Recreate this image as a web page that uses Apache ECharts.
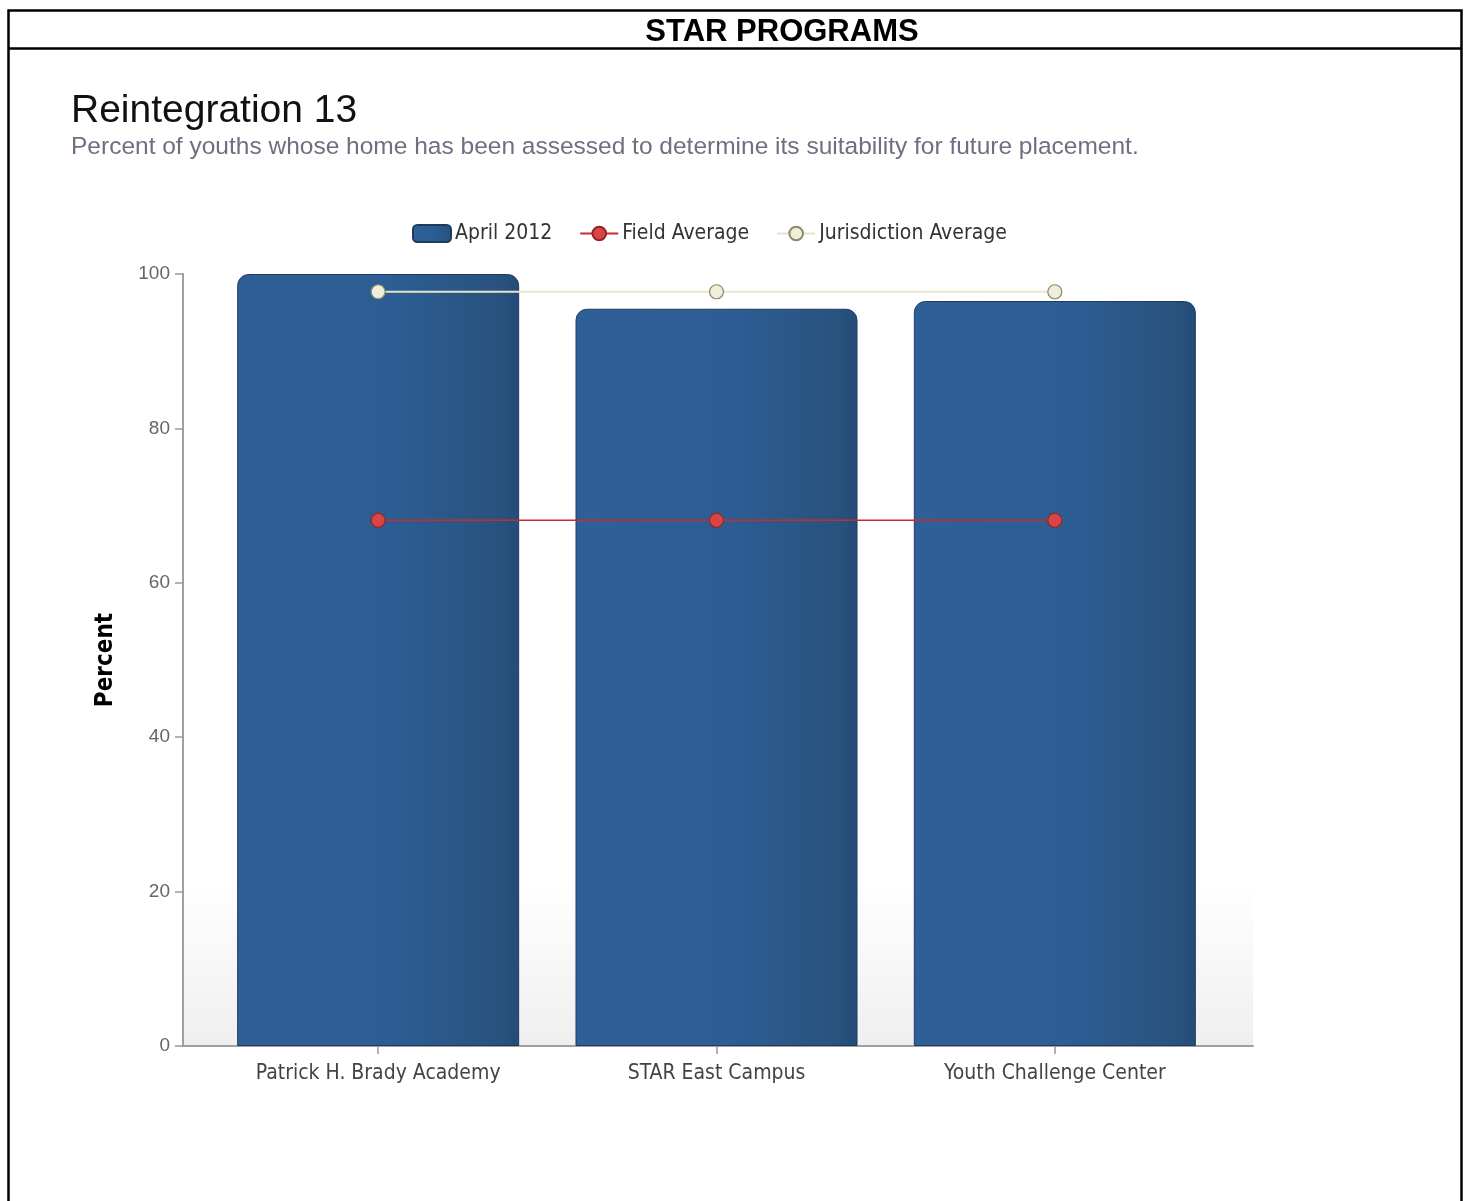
<!DOCTYPE html>
<html>
<head>
<meta charset="utf-8">
<script src="https://cdn.jsdelivr.net/npm/echarts@6/dist/echarts.min.js"></script>
<style>
html,body{margin:0;padding:0;background:#fff;}
#chart{width:1465px;height:1201px;}
</style>
</head>
<body>
<div id="chart"></div>
<script>
const categories = ['Patrick H. Brady Academy', 'STAR East Campus', 'Youth Challenge Center'];
const april2012 = [100, 95.5, 96.5];
const fieldAverage = [68.1, 68.1, 68.1];
const jurisdictionAverage = [97.7, 97.7, 97.7];
const yMin = 0, yMax = 100, yInterval = 20;

const chart = echarts.init(document.getElementById('chart'), null, {renderer: 'canvas'});
const labelFont = '"DejaVu Sans Condensed", "DejaVu Sans", sans-serif';

const option = {
  backgroundColor: '#fff',
  animation: false,
  title: [{
    text: 'Reintegration 13',
    subtext: 'Percent of youths whose home has been assessed to determine its suitability for future placement.',
    left: 71, top: 91, itemGap: 3,
    padding: 0,
    textStyle: {fontFamily: '"Liberation Sans", Arial, sans-serif', fontSize: 39, fontWeight: 'normal', color: '#111', lineHeight: 40},
    subtextStyle: {fontFamily: '"Liberation Sans", Arial, sans-serif', fontSize: 24.5, color: '#6f6f82', lineHeight: 26}
  }],
  legend: {
    left: 412, top: 223, padding: 0,
    itemWidth: 38, itemHeight: 17, itemGap: 27,
    textStyle: {fontFamily: labelFont, fontSize: 21, color: '#333', padding: [0, 0, 0, -1]},
    data: ['April 2012', 'Field Average', 'Jurisdiction Average']
  },
  graphic: [
    {type: 'rect', shape: {x: 8.5, y: 10.5, width: 1453, height: 1210}, style: {fill: 'none', stroke: '#000', lineWidth: 2.5}, z: 100, silent: true},
    {type: 'line', shape: {x1: 8.5, y1: 48.5, x2: 1461.5, y2: 48.5}, style: {stroke: '#000', lineWidth: 2.5}, z: 100, silent: true},
    {type: 'text', x: 782, y: 32, style: {text: 'STAR PROGRAMS', font: 'bold 31px "Liberation Sans", Arial, sans-serif', fill: '#000', align: 'center', verticalAlign: 'middle'}, z: 100, silent: true}
  ],
  grid: [
    {left: 183, right: 212, top: 274, bottom: 155, show: true, borderWidth: 0,
     backgroundColor: {type: 'linear', x: 0, y: 0, x2: 0, y2: 1, colorStops: [
       {offset: 0, color: '#ffffff'}, {offset: 0.79, color: '#ffffff'}, {offset: 1, color: '#efefef'}]}},
    {left: 209, right: 241, top: 274, bottom: 155}
  ],
  xAxis: [
    {type: 'value', gridIndex: 0, min: 0, max: 1, axisLine: {show: true, onZero: false, lineStyle: {color: '#a0a0a0', width: 2}},
     axisTick: {show: false}, axisLabel: {show: false}, splitLine: {show: false}},
    {type: 'category', gridIndex: 1, data: categories, boundaryGap: true,
     axisLine: {show: false},
     axisTick: {show: true, alignWithLabel: true, length: 8, lineStyle: {color: '#999', width: 1.5}},
     axisLabel: {fontFamily: labelFont, fontSize: 21, color: '#444', margin: 17},
     splitLine: {show: false}}
  ],
  yAxis: [
    {type: 'value', gridIndex: 0, min: yMin, max: yMax, interval: yInterval,
     name: 'Percent', nameLocation: 'middle', nameGap: 65,
     nameTextStyle: {fontFamily: labelFont, fontSize: 24, fontWeight: 'bold', color: '#000'},
     axisLine: {show: true, lineStyle: {color: '#a0a0a0', width: 2}},
     axisTick: {show: true, length: 8, lineStyle: {color: '#999', width: 1.5}},
     axisLabel: {fontFamily: '"Liberation Sans", Arial, sans-serif', fontSize: 19, color: '#666', margin: 13},
     splitLine: {show: false}},
    {type: 'value', gridIndex: 1, min: yMin, max: yMax, interval: yInterval, show: false}
  ],
  series: [
    {name: 'April 2012', type: 'bar', xAxisIndex: 1, yAxisIndex: 1, data: april2012, barWidth: 282,
     itemStyle: {
       color: {type: 'linear', x: 0, y: 0, x2: 1, y2: 0, colorStops: [
         {offset: 0, color: '#2e6097'}, {offset: 0.55, color: '#2c5d93'}, {offset: 0.92, color: '#29537f'}, {offset: 1, color: '#244b79'}]},
       borderColor: '#1d3b61', borderWidth: 1, borderRadius: [11, 11, 0, 0]
     }},
    {name: 'Field Average', type: 'line', xAxisIndex: 1, yAxisIndex: 1, data: fieldAverage,
     symbol: 'circle', symbolSize: 14, z: 5,
     lineStyle: {color: '#cc2a2a', width: 1.5},
     itemStyle: {color: '#d94545', borderColor: '#922626', borderWidth: 1.2}},
    {name: 'Jurisdiction Average', type: 'line', xAxisIndex: 1, yAxisIndex: 1, data: jurisdictionAverage,
     symbol: 'circle', symbolSize: 14, z: 5,
     lineStyle: {color: '#e6e4cc', width: 2},
     itemStyle: {color: '#efeed8', borderColor: '#8a8a6c', borderWidth: 1.2}}
  ]
};
chart.setOption(option);
</script>
</body>
</html>
